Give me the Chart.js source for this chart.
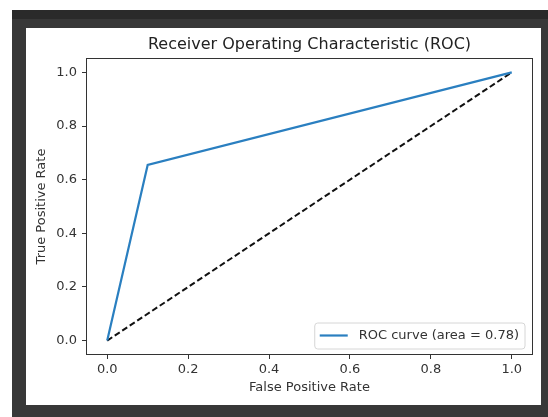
<!DOCTYPE html>
<html>
<head>
<meta charset="utf-8">
<script src="https://cdn.jsdelivr.net/npm/chart.js@4/dist/chart.umd.min.js"></script>
<style>
  body { margin: 0; background: #fff; }
  #frame { position: absolute; left: 12px; top: 10px; width: 536px; height: 407px; background: #383838; }
  #band { position: absolute; left: 12px; top: 10px; width: 536px; height: 9px; background: #2a2a2a; }
  #panel { position: absolute; left: 26px; top: 28px; width: 515px; height: 377px; background: #fff; }
  #myChart { position: absolute; left: 0; top: 0; }
</style>
</head>
<body>
<div id="frame"></div>
<div id="band"></div>
<div id="panel"></div>
<canvas id="myChart" width="548" height="417"></canvas>
<script>
// ROC points
const fpr = [0, 0.1, 1];
const tpr = [0, 0.655, 1];
// chance line
const diagX = [0, 1];
const diagY = [0, 1];
const tickValues = [0, 0.2, 0.4, 0.6, 0.8, 1.0];
const curveLabel = "ROC curve (area = 0.78)";

const font = "DejaVu Sans";

// box around the plot area, like matplotlib's spines
const frameBox = {
  id: "frameBox",
  afterDraw(chart) {
    const { ctx, chartArea } = chart;
    ctx.save();
    ctx.strokeStyle = "#333";
    ctx.lineWidth = 1;
    ctx.strokeRect(Math.round(chartArea.left) - 0.5, Math.round(chartArea.top) - 0.5,
      Math.round(chartArea.right - chartArea.left) + 1, Math.round(chartArea.bottom - chartArea.top) + 1);
    ctx.restore();
  },
};

// legend in the lower right corner of the plot
const legendBox = {
  id: "legendBox",
  afterDatasetsDraw(chart) {
    const { ctx, chartArea } = chart;
    const ds = chart.data.datasets[0];
    ctx.save();
    ctx.font = "13px '" + font + "'";
    const textW = ctx.measureText(ds.label).width;
    const w = 44 + textW + 6;
    const h = 26;
    const x = chartArea.right - 7 - w;
    const y = chartArea.bottom - 5 - h;
    ctx.beginPath();
    ctx.roundRect(x, y, w, h, 3);
    ctx.fillStyle = "rgba(255,255,255,0.8)";
    ctx.fill();
    ctx.strokeStyle = "#d6d6d6";
    ctx.lineWidth = 1;
    ctx.stroke();
    ctx.beginPath();
    ctx.moveTo(x + 5, y + 12.5);
    ctx.lineTo(x + 33, y + 12.5);
    ctx.strokeStyle = ds.borderColor;
    ctx.lineWidth = ds.borderWidth;
    ctx.stroke();
    ctx.fillStyle = "#333";
    ctx.textBaseline = "middle";
    ctx.fillText(ds.label, x + 44, y + 13);
    ctx.restore();
  },
};

function toPoints(xs, ys) {
  const pts = [];
  for (let i = 0; i < xs.length; i++) {
    pts.push({ x: xs[i], y: ys[i] });
  }
  return pts;
}

const ctx = document.getElementById("myChart");

new Chart(ctx, {
  type: "scatter",
  data: {
    datasets: [
      {
        label: curveLabel,
        data: toPoints(fpr, tpr),
        showLine: true,
        borderColor: "#2a7fc0",
        borderWidth: 2.2,
        pointRadius: 0,
      },
      {
        label: "",
        data: toPoints(diagX, diagY),
        showLine: true,
        borderColor: "#111",
        borderWidth: 2,
        borderDash: [6, 3],
        pointRadius: 0,
      },
    ],
  },
  options: {
    responsive: false,
    animation: false,
    devicePixelRatio: 1,
    layout: { padding: { left: 26, right: 16, top: 0, bottom: 12 } },
    plugins: {
      legend: { display: false },
      tooltip: { enabled: false },
      title: {
        display: true,
        fullSize: false,
        text: "Receiver Operating Characteristic (ROC)",
        color: "#222",
        font: { family: font, size: 16, weight: "normal" },
        padding: { top: 35.4, bottom: 4.4 },
      },
    },
    scales: {
      x: {
        type: "linear",
        min: -0.05,
        max: 1.05,
        afterBuildTicks: (scale) => { scale.ticks = tickValues.map((v) => ({ value: v })); },
        afterFit: (scale) => { scale.height = 51; },
        grid: { drawOnChartArea: false, drawTicks: true, tickLength: 5, tickColor: "#333", tickWidth: 1 },
        border: { display: false },
        ticks: {
          color: "#333",
          padding: 3,
          maxRotation: 0,
          font: { family: font, size: 13 },
          callback: (v) => Number(v).toFixed(1),
        },
        title: {
          display: true,
          text: "False Positive Rate",
          color: "#333",
          font: { family: font, size: 13 },
          padding: { top: 0, bottom: 9.2 },
        },
      },
      y: {
        type: "linear",
        min: -0.05,
        max: 1.05,
        afterBuildTicks: (scale) => { scale.ticks = tickValues.map((v) => ({ value: v })); },
        afterFit: (scale) => { scale.width = 61; },
        grid: { drawOnChartArea: false, drawTicks: true, tickLength: 5, tickColor: "#333", tickWidth: 1 },
        border: { display: false },
        ticks: {
          color: "#333",
          padding: 5,
          font: { family: font, size: 13 },
          callback: (v) => Number(v).toFixed(1),
        },
        title: {
          display: true,
          text: "True Positive Rate",
          color: "#333",
          font: { family: font, size: 13 },
          padding: { top: 8.2, bottom: 0 },
        },
      },
    },
  },
  plugins: [frameBox, legendBox],
});
</script>
</body>
</html>
